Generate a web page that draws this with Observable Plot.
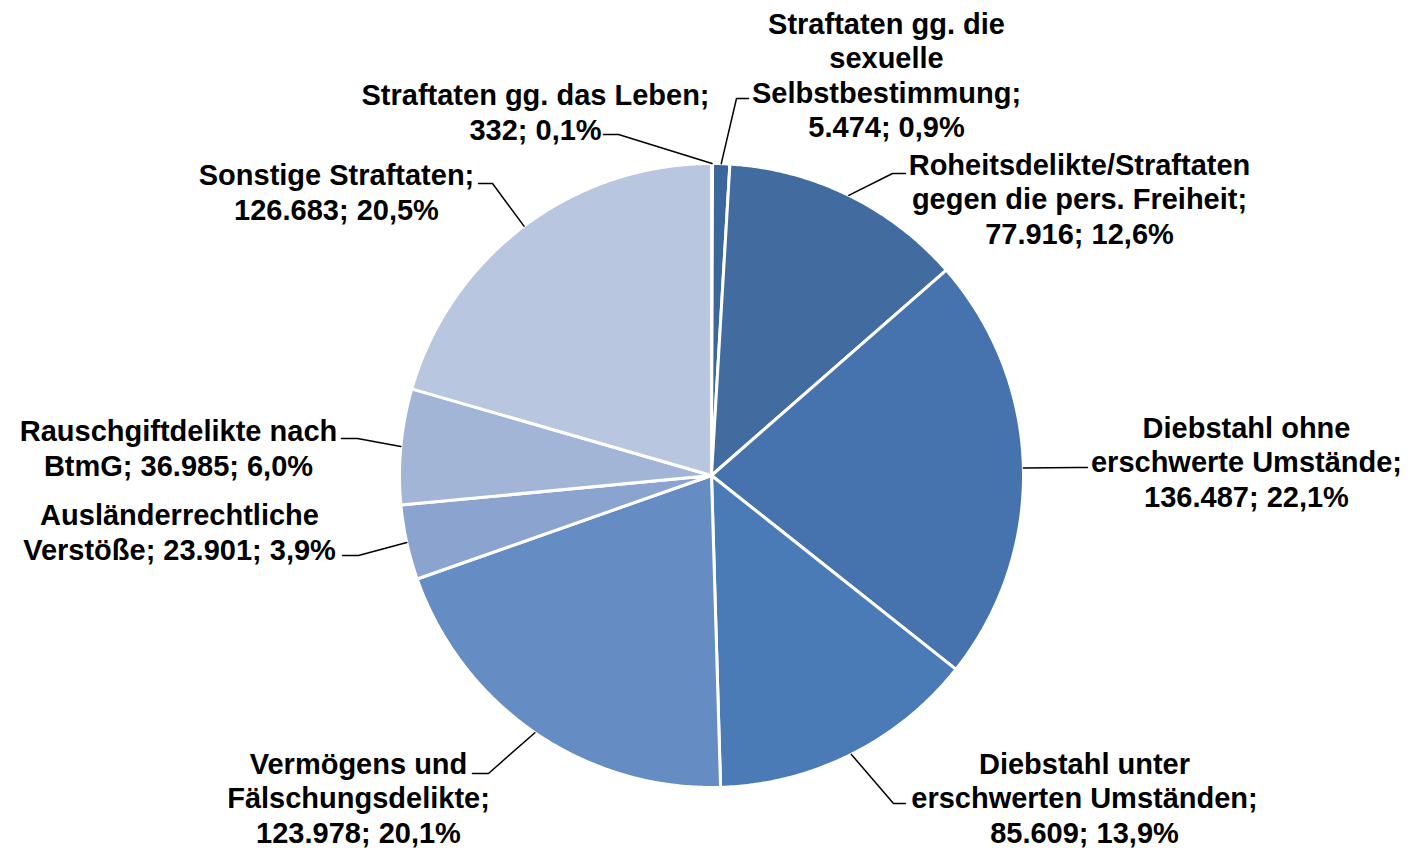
<!DOCTYPE html>
<html>
<head>
<meta charset="utf-8">
<script src="https://cdn.jsdelivr.net/npm/d3@7"></script>
<script src="https://cdn.jsdelivr.net/npm/@observablehq/plot@0.6"></script>
<style>
  html, body { margin: 0; padding: 0; background: #fff; }
  #chart svg { display: block; }
</style>
</head>
<body>
<div id="chart"></div>
<script>
// ---- data ----
const categories = [
  "Straftaten gg. das Leben",
  "Straftaten gg. die\nsexuelle\nSelbstbestimmung",
  "Roheitsdelikte/Straftaten\ngegen die pers. Freiheit",
  "Diebstahl ohne\nerschwerte Umstände",
  "Diebstahl unter\nerschwerten Umständen",
  "Vermögens und\nFälschungsdelikte",
  "Ausländerrechtliche\nVerstöße",
  "Rauschgiftdelikte nach\nBtmG",
  "Sonstige Straftaten"
];
const values = [332, 5474, 77916, 136487, 85609, 123978, 23901, 36985, 126683];

// ---- styles / layout (not data) ----
const colors = ["#2f5b8f", "#3c679d", "#426b9f", "#4673ad", "#4a7bb7", "#668dc3", "#8aa4cf", "#a3b5d7", "#b9c6df"];
const nameSep = ["\n", "\n", "\n", "\n", "\n", "\n", " ", " ", "\n"];
// label block centre, leader elbow, leader end (pixels)
const labelLayout = [
  {lx: 535, ly: 111, ex: 618, ey: 134, tx: 603, ty: 134},
  {lx: 886, ly: 74,  ex: 736, ey: 98,  tx: 748, ty: 98},
  {lx: 1079, ly: 198, ex: 892, ey: 173, tx: 905, ty: 173},
  {lx: 1246, ly: 461, ex: 1077, ey: 467, tx: 1087, ty: 467},
  {lx: 1084, ly: 797, ex: 893, ey: 803, tx: 905, ty: 803},
  {lx: 358, ly: 797, ex: 488, ey: 773, tx: 472, ty: 773},
  {lx: 179, ly: 531, ex: 358, ey: 555, tx: 342, ty: 555},
  {lx: 178, ly: 447, ex: 357, ey: 438, tx: 341, ty: 438},
  {lx: 336, ly: 191, ex: 492, ey: 183, tx: 478, ty: 183}
];
const W = 1409, H = 848, CX = 711, CY = 475, R = 312;
const px = x => (x - CX) / R;
const py = y => (CY - y) / R;

// ---- formatting (German) ----
const de = d3.formatLocale({decimal: ",", thousands: ".", grouping: [3], currency: ["", " €"]});
const fmtInt = de.format(",d");
const fmtPct = de.format(".1f");
const total = d3.sum(values);

// ---- pie geometry from data ----
const arcs = d3.pie().sort(null).value(d => d)(values);
const slicePts = [];
arcs.forEach((a, i) => {
  slicePts.push({k: i, x: 0, y: 0});
  const n = Math.max(2, Math.ceil((a.endAngle - a.startAngle) / (Math.PI / 360)));
  for (let j = 0; j <= n; j++) {
    const t = a.startAngle + (a.endAngle - a.startAngle) * j / n;
    slicePts.push({k: i, x: Math.sin(t), y: Math.cos(t)});
  }
});

const labels = arcs.map((a, i) => ({
  k: i,
  x: px(labelLayout[i].lx),
  y: py(labelLayout[i].ly),
  text: categories[i] + ";" + nameSep[i] + fmtInt(values[i]) + "; " + fmtPct(values[i] / total * 100) + "%"
}));

const leaders = [];
arcs.forEach((a, i) => {
  const m = (a.startAngle + a.endAngle) / 2;
  const L = labelLayout[i];
  leaders.push({k: i, x: Math.sin(m), y: Math.cos(m)});
  leaders.push({k: i, x: px(L.ex), y: py(L.ey)});
  leaders.push({k: i, x: px(L.tx), y: py(L.ty)});
});

const chart = Plot.plot({
  width: W,
  height: H,
  margin: 0,
  x: {domain: [px(0), px(W)], range: [0, W], axis: null},
  y: {domain: [py(H), py(0)], range: [H, 0], axis: null},
  color: {domain: d3.range(categories.length), range: colors},
  style: {background: "#fff"},
  marks: [
    Plot.line(slicePts, {
      x: "x", y: "y", z: "k", fill: "k",
      stroke: "white", strokeWidth: 3, strokeLinejoin: "round",
      curve: "linear-closed"
    }),
    Plot.line(leaders, {x: "x", y: "y", z: "k", stroke: "black", strokeWidth: 1.5}),
    Plot.text(labels, {
      x: "x", y: "y", text: "text",
      fontFamily: "'Liberation Sans', Arial, sans-serif",
      fontWeight: "bold", fontSize: 29, lineHeight: 1.18,
      textAnchor: "middle", lineAnchor: "middle", fill: "black"
    })
  ]
});
document.getElementById("chart").appendChild(chart);
</script>
</body>
</html>
